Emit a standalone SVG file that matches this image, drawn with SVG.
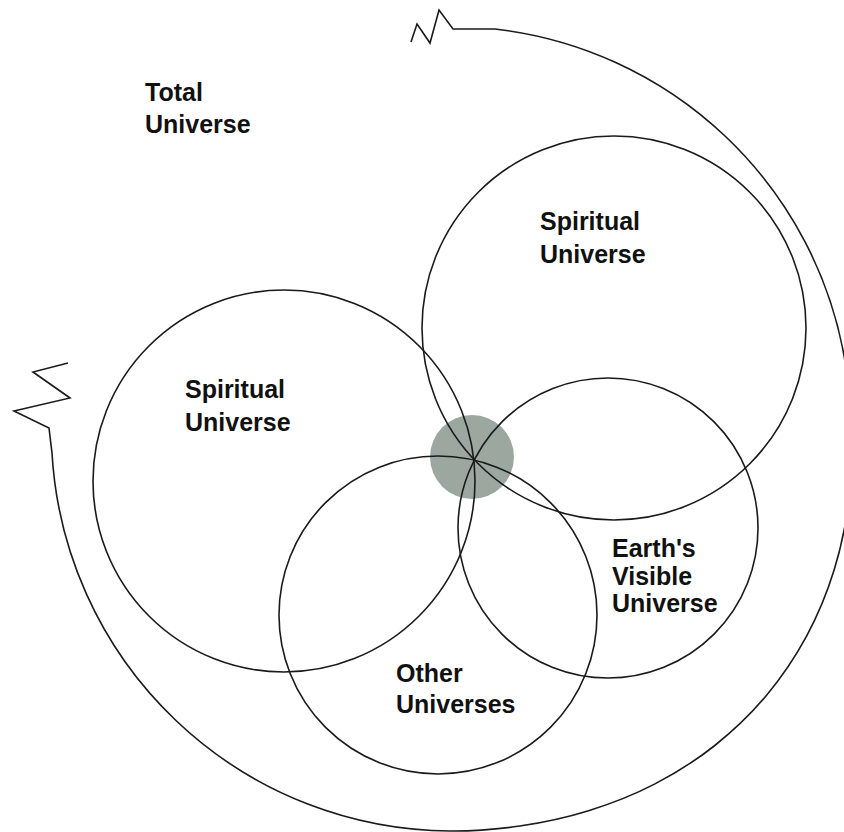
<svg xmlns="http://www.w3.org/2000/svg" width="844" height="832" viewBox="0 0 844 832">
<style>
.c{fill:none;stroke:#1a1a1a;stroke-width:1.6}
.t{font-family:"Liberation Sans",Arial,sans-serif;font-weight:bold;font-size:25px;fill:#111}
</style>
<rect width="844" height="832" fill="#fff"/>
<g id="focus"><circle cx="472" cy="457" r="42" fill="#9ca89f"/></g>
<g id="total-universe">
<path class="c" d="M411,42 L417,24 L430,43 L439,10 L453,29 L495,29 A401,401 0 0 1 844.9,360.4 C849.1,383.3 851.4,406.7 852.1,430 C852.8,453.3 851.9,477 848.9,500.3 C845.9,523.6 841.2,547.2 834.2,569.8 C827.2,592.4 818,615 806.7,635.9 C795.4,656.9 781.7,677.2 766.4,695.5 C751.1,713.8 733.4,730.7 714.8,745.5 C696.2,760.3 675.5,773.2 654.5,784.1 C633.5,795 611.1,803.7 588.6,810.7 C566.1,817.7 542.9,822.6 519.8,826 C496.7,829.4 473.2,831.2 450,831 A401,401 0 0 1 52,453 L49,428 L14,411 L70,398 L33,372 L68,363"/>
<text class="t" x="145" y="101">Total</text>
<text class="t" x="145" y="133">Universe</text>
</g>
<g id="spiritual-top">
<circle class="c" cx="614" cy="328" r="192"/>
<text class="t" x="540" y="230">Spiritual</text>
<text class="t" x="540" y="263">Universe</text>
</g>
<g id="spiritual-left">
<circle class="c" cx="284" cy="481" r="191"/>
<text class="t" x="185" y="398">Spiritual</text>
<text class="t" x="185" y="431">Universe</text>
</g>
<g id="earth-visible">
<circle class="c" cx="608" cy="528" r="150"/>
<text class="t" x="612" y="557">Earth's</text>
<text class="t" x="612" y="585">Visible</text>
<text class="t" x="612" y="612">Universe</text>
</g>
<g id="other-universes">
<circle class="c" cx="438" cy="615" r="159"/>
<text class="t" x="396" y="682">Other</text>
<text class="t" x="396" y="713">Universes</text>
</g>
<g id="connectors"/>
</svg>
